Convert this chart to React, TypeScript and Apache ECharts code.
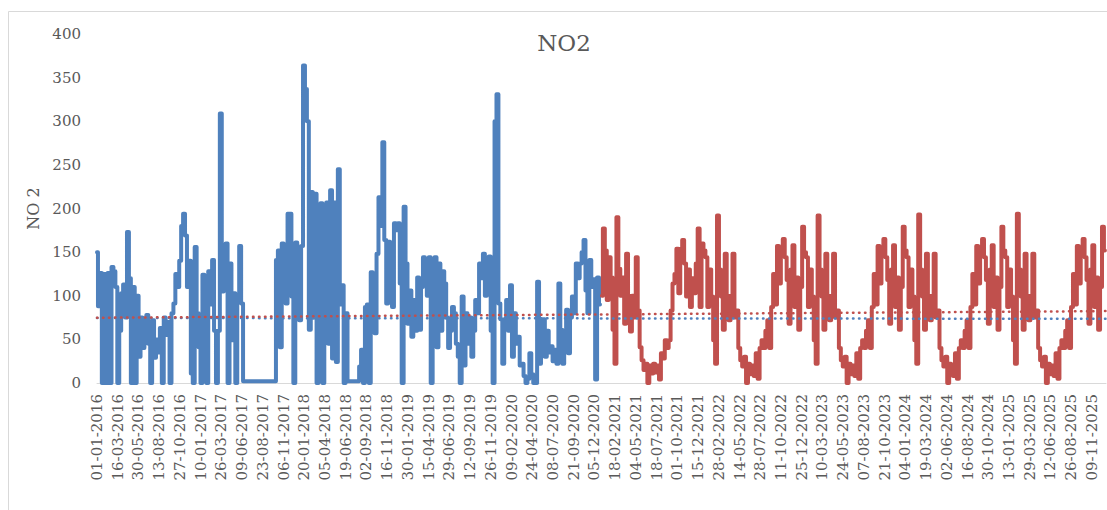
import React, { useEffect, useRef } from "react";
import * as echarts from "echarts";

// Weekly readings (every 7 days) starting 01-01-2016 for the measured series
const blue2016 = [150, 88, 126, 0, 125, 0, 126, 0, 133, 128, 110, 0, 60, 103, 113, 75, 173, 120, 0, 110, 0, 100, 30, 75, 40, 55, 78, 45, 0, 72, 29, 50, 35, 63, 0, 75, 55, 70, 0, 80, 91, 125, 110, 140, 180, 194, 169, 110, 140, 11, 0, 156, 80];
const blue2017 = [41, 0, 124, 63, 0, 128, 90, 141, 60, 0, 60, 309, 105, 134, 160, 0, 137, 49, 103, 0, 100, 157, 91, 2, 2, 2, 2, 2, 2, 2, 2, 2, 2, 2, 2, 2, 2, 2, 2, 2, 141, 152, 41, 160, 150, 91, 194, 194, 99, 0, 161, 141];
const blue2018 = [72, 157, 364, 337, 300, 61, 219, 75, 217, 0, 186, 206, 0, 198, 207, 45, 221, 28, 207, 24, 245, 90, 112, 0, 80, 2, 2, 2, 2, 2, 2, 19, 38, 0, 87, 90, 0, 127, 110, 57, 148, 213, 180, 276, 164, 91, 162, 137, 87, 183, 175, 183];
const blue2019 = [114, 0, 202, 137, 68, 106, 53, 95, 60, 121, 61, 110, 144, 137, 100, 144, 0, 130, 144, 41, 137, 60, 128, 114, 75, 40, 60, 87, 80, 45, 30, 0, 99, 20, 80, 45, 75, 30, 60, 95, 80, 137, 120, 148, 100, 137, 145, 60, 0, 300, 331, 91];
const blue2020 = [73, 22, 73, 95, 60, 112, 30, 80, 45, 53, 20, 22, 8, 0, 5, 34, 10, 0, 0, 116, 22, 48, 73, 30, 60, 35, 42, 25, 38, 22, 114, 61, 22, 55, 84, 34, 75, 99, 80, 137, 120, 137, 150, 164, 106, 80, 141, 110, 119, 4, 121, 90];

// Weekly readings starting 01-01-2021 for the predicted series
const red2021 = [100, 177, 152, 95, 144, 121, 61, 22, 190, 131, 100, 121, 68, 148, 100, 59, 100, 75, 144, 83, 41, 26, 15, 22, 0, 20, 11, 22, 12, 20, 4, 34, 28, 49, 40, 49, 83, 114, 125, 154, 103, 154, 164, 137, 99, 130, 87, 120, 103, 137, 177, 87, 160];
const red2022 = [152, 144, 87, 130, 99, 49, 22, 192, 130, 99, 61, 148, 100, 72, 100, 148, 75, 83, 40, 26, 19, 30, 0, 22, 10, 20, 8, 34, 5, 40, 49, 40, 60, 72, 40, 87, 125, 90, 157, 114, 150, 165, 144, 118, 68, 130, 158, 87, 121, 61, 110, 179];
const red2023 = [150, 144, 87, 130, 99, 49, 22, 192, 130, 99, 61, 148, 100, 72, 100, 148, 75, 83, 40, 26, 19, 30, 0, 22, 10, 20, 8, 34, 5, 40, 49, 40, 60, 72, 40, 87, 125, 90, 157, 114, 150, 165, 144, 118, 68, 130, 158, 87, 121, 61, 110, 179];
const red2024 = [152, 144, 87, 130, 99, 49, 22, 193, 130, 99, 61, 148, 100, 72, 100, 148, 75, 83, 40, 26, 19, 30, 0, 22, 20, 8, 34, 5, 40, 49, 40, 60, 72, 40, 87, 125, 90, 157, 114, 150, 165, 144, 118, 68, 130, 158, 87, 121, 61, 110, 179];
const red2025 = [152, 144, 87, 130, 99, 49, 22, 194, 130, 99, 61, 148, 100, 72, 100, 148, 75, 83, 40, 26, 19, 30, 0, 22, 10, 20, 8, 34, 5, 40, 49, 40, 60, 72, 40, 87, 125, 90, 157, 114, 150, 165, 144, 118, 68, 130, 158, 87, 121, 61, 110, 179, 152];

// Linear trend lines (start, end)
const blueTrend = [74.5, 73.6];
const redTrend = [74.8, 82.4];

const START_UTC = Date.UTC(2016, 0, 1);
const STEP_DAYS = 7;
const RED_START_DAY = 1827; // 01-01-2021
const LAST_DAY = 3651; // 31-12-2025
const LABEL_EVERY = 75;

const pad = (n: number) => (n < 10 ? "0" + n : "" + n);
const fmtDay = (v: number) => {
  const d = new Date(START_UTC + Math.round(v) * 86400000);
  return pad(d.getUTCDate()) + "-" + pad(d.getUTCMonth() + 1) + "-" + d.getUTCFullYear();
};

export default function App() {
  const ref = useRef<HTMLDivElement>(null);
  useEffect(() => {
    document.body.style.margin = "0";
    if (!ref.current) return;
    const chart = echarts.init(ref.current, undefined, { renderer: "svg" });
    const blue = [...blue2016, ...blue2017, ...blue2018, ...blue2019, ...blue2020];
    const red = [...red2021, ...red2022, ...red2023, ...red2024, ...red2025];
    const blueData = blue.map((v, i) => [i * STEP_DAYS, v]);
    const redData = red.map((v, j) => [RED_START_DAY + j * STEP_DAYS, v]);
    const serif = "DejaVu Serif";
    chart.setOption({
      animation: false,
      backgroundColor: "#ffffff",
      grid: { left: 97, right: 1, top: 34, bottom: 127, containLabel: false },
      graphic: [
        {
          type: "rect",
          shape: { x: 8.5, y: 11.5, width: 1200, height: 600 },
          style: { fill: "none", stroke: "#d9d9d9", lineWidth: 1 },
          silent: true,
          z: -10,
        },
        {
          type: "text",
          x: 564,
          y: 43,
          style: {
            text: "NO2",
            fontFamily: serif,
            fontSize: 23,
            fill: "#595959",
            textAlign: "center",
            textVerticalAlign: "middle",
          },
        },
      ],
      xAxis: {
        type: "value",
        min: 0,
        max: LAST_DAY,
        interval: LABEL_EVERY,
        axisLine: { show: true, lineStyle: { color: "#d9d9d9", width: 1 } },
        axisTick: { show: false },
        splitLine: { show: false },
        axisLabel: {
          rotate: 90,
          margin: 11,
          showMaxLabel: false,
          fontFamily: serif,
          fontSize: 15,
          color: "#595959",
          formatter: fmtDay,
        },
      },
      yAxis: {
        type: "value",
        min: 0,
        max: 400,
        interval: 50,
        name: "NO 2",
        nameLocation: "middle",
        nameRotate: 90,
        nameGap: 55,
        nameTextStyle: { fontFamily: serif, fontSize: 16, color: "#595959" },
        axisLine: { show: false },
        axisTick: { show: false },
        splitLine: { show: false },
        axisLabel: { margin: 16, fontFamily: serif, fontSize: 15, color: "#595959" },
      },
      series: [
        {
          type: "line",
          data: blueData,
          step: "middle",
          showSymbol: false,
          lineStyle: { color: "#4f81bd", width: 4, cap: "round", join: "round" },
          itemStyle: { color: "#4f81bd" },
          z: 2,
        },
        {
          type: "line",
          data: redData,
          step: "middle",
          showSymbol: false,
          lineStyle: { color: "#c0504d", width: 4, cap: "round", join: "round" },
          itemStyle: { color: "#c0504d" },
          z: 2,
        },
        {
          type: "line",
          data: [[0, blueTrend[0]], [LAST_DAY, blueTrend[1]]],
          showSymbol: false,
          lineStyle: { color: "#4f81bd", width: 2.5, type: [0.5, 5.5], cap: "round" },
          z: 3,
        },
        {
          type: "line",
          data: [[0, redTrend[0]], [LAST_DAY, redTrend[1]]],
          showSymbol: false,
          lineStyle: { color: "#c0504d", width: 2.5, type: [0.5, 5.5], cap: "round" },
          z: 4,
        },
      ],
    });
    return () => chart.dispose();
  }, []);
  return (
    <div
      ref={ref}
      style={{ position: "absolute", left: 0, top: 0, width: 1107, height: 510 }}
    />
  );
}
